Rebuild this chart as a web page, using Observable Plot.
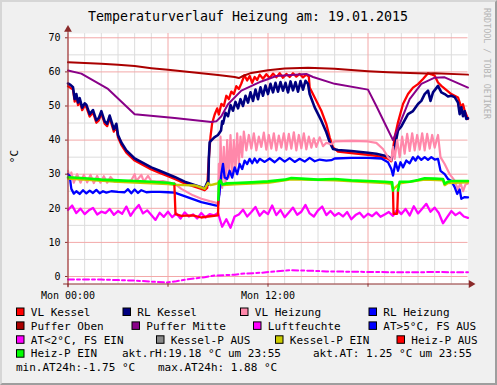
<!DOCTYPE html>
<html><head><meta charset="utf-8">
<script src="https://cdn.jsdelivr.net/npm/d3@7"></script>
<script src="https://cdn.jsdelivr.net/npm/@observablehq/plot@0.6"></script>
<style>
body{margin:0;background:#fff}
#wrap{position:relative;width:497px;height:385px;background:#f0f0f0;overflow:hidden}
#wrap svg{position:absolute;left:0;top:0}
#border{position:absolute;left:0;top:0;width:497px;height:385px;box-sizing:border-box;border:2px solid;border-color:#d6d6d6 #9e9e9e #9e9e9e #d6d6d6;pointer-events:none}
</style></head>
<body><div id="wrap"></div>
<script>
// ---- tick definitions ----
const hourTicks = [0, 12];
const hourTickLabels = ["Mon 00:00", "Mon 12:00"];
const majorHours = [0, 6, 12, 18];
const minorHours = [1,2,3,4,5,7,8,9,10,11,13,14,15,16,17,19,20,21,22,23];
const yLabels = [0, 10, 20, 30, 40, 50, 60, 70];
const minorY = [5, 15, 25, 35, 45, 55, 65];

// ---- series: [hour, °C] ----
const vlKessel = [[0,55.8],[0.15,55.3],[0.3,54.8],[0.4,51.3],[0.5,52.8],[0.6,50.3],[0.7,51.6],[0.85,48.8],[1.0,50.1],[1.1,49.7],[1.3,46.9],[1.5,48.1],[1.7,45.1],[1.85,45.8],[2.0,47.8],[2.2,44.8],[2.35,44.1],[2.5,46.5],[2.75,42.5],[2.9,44.1],[3.0,40.8],[3.2,38.6],[3.5,36.3],[4,34],[4.5,32.7],[5,31.4],[5.5,30.4],[6,29.4],[6.4,28.6],[7,27.3],[7.5,26.5],[8,25.7],[8.2,25.3],[8.35,26],[8.45,34.5],[8.55,41],[8.65,45],[8.8,47.5],[8.95,49.3],[9.05,47.5],[9.2,50.6],[9.35,50],[9.5,53],[9.65,52],[9.8,54.2],[9.95,53.5],[10.1,55.8],[10.25,55],[10.4,56.6],[10.58,59],[10.75,57.5],[10.9,58.8],[11.05,56.8],[11.2,58.5],[11.35,57.6],[11.5,59.2],[11.7,58],[11.9,59.3],[12.1,58.2],[12.3,59.5],[12.5,58.4],[12.7,59.6],[12.9,58.3],[13.1,59.4],[13.3,58.5],[13.5,59.6],[13.7,58.6],[13.9,59.4],[14.1,58.4],[14.3,59.2],[14.45,58.6],[14.5,55.4],[14.8,52.5],[15.2,48.6],[15.5,44.7],[15.7,40.8],[15.9,37.9],[16.2,36.6],[17,36.2],[18,35.7],[18.5,35.4],[19.2,34.6],[19.4,33.8],[19.6,40.8],[19.8,45.2],[20.1,50.6],[20.4,53.5],[20.7,55.4],[21,56.4],[21.3,57.9],[21.6,59.6],[21.8,59.3],[22,58.9],[22.2,56.9],[22.4,55.9],[23,53.5],[23.4,52.5],[23.6,49.6],[23.7,50.5],[23.8,48.6],[24,46.2]];
const rlKessel = [[0,56.6],[0.15,56.2],[0.3,55.5],[0.4,52],[0.5,53.5],[0.6,51],[0.7,52.3],[0.85,49.5],[1.0,50.8],[1.1,50.4],[1.3,47.6],[1.5,48.8],[1.7,45.8],[1.85,46.5],[2.0,48.5],[2.2,45.5],[2.35,44.8],[2.5,47.2],[2.75,43.2],[2.9,44.8],[3.0,41.5],[3.2,39.3],[3.5,37],[4,34.6],[4.5,33.3],[5,32],[5.5,31],[6,30],[6.4,29.2],[7,27.8],[7.5,27],[8,26.2],[8.2,25.8],[8.3,27],[8.38,27.8],[8.42,27],[8.45,34.5],[8.5,39.4],[8.78,40.8],[9.0,41.5],[9.18,42.8],[9.25,45.5],[9.3,44.8],[9.45,48],[9.6,47],[9.75,50.3],[9.9,48.6],[10.05,51.2],[10.2,49.3],[10.35,52],[10.5,50],[10.65,53],[10.8,51],[10.95,54],[11.1,51.5],[11.25,54.8],[11.4,52],[11.55,55.5],[11.7,53],[11.85,56],[12,53.5],[12.15,56.5],[12.3,54],[12.45,56.8],[12.6,54.2],[12.75,57],[12.9,54.5],[13.05,56.8],[13.2,54],[13.35,57.2],[13.5,54.6],[13.65,57],[13.8,54.2],[13.95,57.3],[14.1,54.8],[14.25,57.4],[14.4,56.5],[14.5,53.5],[14.8,49.6],[15.2,45.7],[15.5,42.3],[15.7,39.4],[15.9,37.4],[16.2,37.1],[17,36.8],[18,36.3],[18.5,36],[19.2,35.2],[19.4,34.2],[19.6,37.9],[19.8,42.8],[20,44],[20.4,47.6],[20.7,48.5],[21,50.6],[21.2,51.5],[21.4,53.5],[21.6,54.5],[21.75,51.5],[21.9,54],[22.2,55.9],[22.4,54],[22.6,53.5],[22.8,52.8],[23,53],[23.2,52.6],[23.4,51],[23.5,47.6],[23.6,49.6],[23.7,47],[23.8,48.5],[23.9,46.2],[24,46.4]];
const vlHeizung = [[0,31],[0.1,29],[0.2,30.5],[0.35,27.5],[0.55,30],[0.75,27.5],[0.95,29.8],[1.15,27.6],[1.35,29.8],[1.55,27.4],[1.75,29.5],[1.95,27.5],[2.15,29.4],[2.35,27.5],[2.55,29.2],[2.8,27.8],[3.1,28.2],[3.4,27.7],[3.8,28.2],[4.0,30],[4.1,28],[4.4,29.8],[4.55,27.8],[4.8,29.5],[5.0,28],[5.3,27.8],[5.7,28],[6.0,27.6],[6.4,27.2],[6.8,25.7],[7.5,23.8],[8.0,22.8],[8.5,22.1],[8.9,21.6],[9.0,21.5],[9.05,33],[9.1,24],[9.15,41],[9.25,26],[9.35,38],[9.45,27],[9.55,40],[9.65,29],[9.75,41.5],[9.85,30],[9.95,40],[10.05,31],[10.15,42],[10.25,33],[10.35,41],[10.45,35],[10.55,42.5],[10.7,37],[10.85,41.5],[11,37.5],[11.15,42],[11.3,37],[11.45,41],[11.6,38],[11.75,42.2],[11.9,37.2],[12.05,41.5],[12.2,37.5],[12.35,42],[12.5,37],[12.65,41.3],[12.8,37.8],[12.95,42],[13.1,37.2],[13.25,41.8],[13.4,37.5],[13.55,42.3],[13.7,37],[13.85,41.5],[14,37.6],[14.15,42],[14.3,37.3],[14.45,41],[14.6,37.8],[14.75,40.5],[14.9,38],[15.1,40.8],[15.3,38.2],[15.5,39.2],[15.8,38.8],[16,39.6],[17,39.8],[18,39.6],[18.5,39.2],[18.9,37.4],[19.2,35],[19.4,34],[19.5,38],[19.6,34.5],[19.75,40],[19.9,35],[20.05,41],[20.2,36],[20.35,41.8],[20.5,36.8],[20.65,42],[20.8,37],[20.95,41.5],[21.1,37.2],[21.25,42],[21.4,37],[21.55,41.8],[21.7,37.5],[21.85,41.5],[22,37.8],[22.2,41.5],[22.35,35],[22.6,33],[22.9,30],[23.2,28.1],[23.4,25.5],[23.55,27.5],[23.7,25],[23.85,27],[24,27.3]];
const rlHeizung = [[0,30],[0.1,29.5],[0.2,25.7],[0.35,24.3],[0.5,25],[0.7,24.2],[0.9,25.3],[1.1,24.4],[1.3,25.2],[1.5,24.5],[1.7,25.4],[1.9,24.4],[2.1,25],[2.3,24.6],[2.6,25],[3,24.8],[3.4,24.7],[3.6,25.6],[3.8,24.4],[4.0,25.5],[4.2,24.5],[4.4,25.3],[4.7,24.7],[5.0,24.8],[5.5,24.8],[6.0,24.7],[6.4,24.6],[7.2,23.2],[8,21.8],[8.9,20.8],[9.0,20.8],[9.1,25],[9.2,30.1],[9.3,33],[9.4,29],[9.55,28.6],[9.7,31],[9.85,29],[10,32],[10.15,30],[10.3,33],[10.45,31.5],[10.6,34],[10.75,33],[10.9,34.5],[11.05,33.2],[11.2,34.6],[11.35,33.4],[11.5,34.5],[11.8,33.6],[12.1,34.6],[12.4,33.5],[12.7,34.8],[13,33.7],[13.3,34.7],[13.6,33.6],[13.9,34.5],[14.2,33.7],[14.5,34.8],[14.8,33.8],[15.1,34.3],[15.5,34],[15.8,34.1],[16,34.6],[17,34.8],[18,34.8],[18.8,34.6],[19.2,33.5],[19.4,31.5],[19.5,29.6],[19.65,33.5],[19.8,31],[19.95,33.5],[20.1,32],[20.3,34],[20.5,33.2],[20.7,35],[20.85,34],[21,35.2],[21.2,34.2],[21.4,35],[21.6,34.2],[21.8,35],[22,34.3],[22.2,34.5],[22.35,31],[22.6,30],[22.8,28.6],[23,28],[23.2,26.2],[23.35,24.2],[23.5,25.5],[23.6,22.8],[23.8,23.3],[24,23.2]];
const pufferOben = [[0,62.8],[1,62.6],[2,62.4],[3,62.1],[4,61.7],[5,61.1],[6,60.6],[7,60.1],[8,59.6],[9,59.1],[10,58.5],[10.25,58.2],[10.5,58.8],[11,59.7],[12,60.5],[13,61],[14.4,61.2],[16,60.9],[18,60.2],[19.2,59.9],[20.5,59.7],[21.5,59.5],[22,59.6],[24,59.2]];
const pufferMitte = [[0,60.4],[0.8,59.5],[2.4,55],[4,47.6],[6.4,46.5],[8.6,45.3],[8.9,45.5],[9.2,47],[9.6,50.5],[10.4,54.5],[11.6,57.2],[12.5,58.8],[14.3,59.4],[14.7,58.5],[16,56.5],[18,54.8],[18.5,50],[19.1,44],[19.5,40],[19.8,43.5],[20.5,52],[21.2,56.5],[22,58.3],[22.6,58.4],[24,55.4]];
// relative humidity, one value every 15 minutes from 00:00
const luftfeuchte = [19.5,20.8,18.6,19.9,18.3,19.4,20.1,18.2,19.0,18.6,19.8,18.1,19.2,18.4,20.5,17.8,19.6,21.0,18.5,19.4,18.0,16.6,18.7,17.5,19.0,17.4,18.5,17.0,18.8,17.6,18.2,17.0,18.6,17.3,18.3,17.9,18.6,14.6,16.8,14.3,17.6,18.2,19.6,17.6,18.9,20.4,17.8,19.2,18.3,20.8,18.0,19.5,17.4,18.8,20.2,18.1,19.0,21.0,18.5,17.6,19.4,20.5,18.0,19.2,17.8,18.6,17.6,18.9,16.8,18.0,18.7,17.3,18.4,17.7,18.8,17.5,18.2,18.9,17.8,19.6,18.3,19.8,17.9,20.6,18.5,19.9,21.3,19.0,20.2,18.6,15.6,17.4,19.2,18.0,18.8,17.6,17.2];
const atKalt = [[0,-0.9],[2,-0.9],[4,-1.2],[5,-1.5],[5.9,-1.75],[6.5,-1.4],[7.2,-0.8],[8.2,-0.2],[8.8,0.3],[10,0.5],[10.4,0.8],[11.6,1.1],[12.5,1.5],[13.4,1.85],[14.5,1.7],[15.5,1.5],[17,1.4],[18.5,1.3],[20.5,1.25],[22,1.3],[24,1.25]];
const kesselPEin = [[0,28.7],[3,27.8],[6,27.1],[6.4,26.9],[7,26.8],[7.6,26.7],[8,26.1],[8.2,25.7],[8.4,27.4],[8.55,26.8],[8.9,27.2],[9.0,27.4],[9.2,27.6],[9.3,26.8],[10,27],[12,27.5],[13.4,28.5],[16,28.2],[19,27.4],[19.4,27.2],[19.5,25.5],[19.9,27.3],[21.4,28.4],[22.5,28.2],[22.6,26.8],[22.8,27.4],[24,27.6]];
const heizPAus = [[6.38,27.2],[6.45,18.3],[6.8,17.8],[7.5,17.9],[8,17.3],[8.4,17.6],[9.0,17.9],[9.02,22.5],[9.03,null],[19.5,25.2],[19.53,18.4],[19.75,18.4],[19.8,25.2]];
const heizPEin = [[0,29.1],[1,28.8],[2,28.4],[3,28.2],[4,28],[5,27.8],[6,27.5],[6.38,27.2],[6.42,null],[9.02,22.5],[9.06,27.8],[9.15,28.2],[9.25,27],[9.5,27.3],[10,27.4],[11,27.6],[12,27.9],[13,28.4],[13.4,28.9],[14,28.7],[15,28.4],[16,28.6],[17,28.2],[18,28],[19,27.8],[19.45,27.6],[19.5,25.2],[19.52,null],[19.8,25.2],[19.9,27.8],[20.5,27.8],[21,28.3],[21.4,28.8],[22,28.7],[22.5,28.6],[22.6,27.2],[22.8,27.8],[23,28],[24,28]];

// ---- legend ----
const legendLabels = [["VL Kessel","RL Kessel","VL Heizung","RL Heizung"],["Puffer Oben","Puffer Mitte","Luftfeuchte","AT>5°C, FS AUS"],["AT<2°C, FS EIN","Kessel-P AUS","Kessel-P EIN","Heiz-P AUS"],["Heiz-P EIN"]];
const legendColors = [["#ff0000","#000080","#ff88aa","#0000ff"],["#aa0000","#880088","#ff00ff","#0000ff"],["#ff00ff","#888888","#cccc00","#ff0000"],["#00ff00"]];
const infoRow4 = ["akt.rH:19.18 °C um 23:55", "akt.AT: 1.25 °C um 23:55"];
const infoRow5 = ["min.AT24h:-1.75 °C", "max.AT24h: 1.88 °C"];
const titleText = "Temperaturverlauf Heizung am: 19.01.2015";

// layout (positions only)
const legendBoxX = [[16,122.5,240,368.5],[16,131.5,253,368.5],[16,156,275,396.5],[16]];
const info4X = [122, 313];
const info5X = [16, 158];
const rowBase = [315.7, 329.6, 343.5, 357.4, 371.3];

const yMin = -2.2, yMax = 71.26;
const axisColor = "#8b2a2a";
const mono = "DejaVu Sans Mono, monospace";
const L = (data, color, w, extra = {}) => Plot.line(data, {x: d => d[0], y: d => d[1], stroke: color, strokeWidth: w, strokeLinejoin: "round", ...extra});

const chart = Plot.plot({
  width: 497, height: 385,
  marginLeft: 67.5, marginRight: 29.5, marginTop: 33, marginBottom: 101.5,
  style: {background: "transparent", fontFamily: mono, fontSize: "10px", color: "#000", overflow: "visible"},
  x: {domain: [0, 24]},
  y: {domain: [yMin, yMax]},
  marks: [
    Plot.frame({fill: "#ffffff", stroke: null}),
    Plot.ruleX(minorHours, {stroke: "#dcdcdc"}),
    Plot.ruleY(minorY, {stroke: "#dcdcdc"}),
    Plot.ruleX(majorHours, {stroke: "#f3a8a8"}),
    Plot.ruleY(yLabels, {stroke: "#f3a8a8"}),
    L(vlKessel, "#ff0000", 2.3),
    L(rlKessel, "#000080", 2.6),
    L(vlHeizung, "#ff88aa", 2.2),
    L(rlHeizung, "#0000ff", 2.3),
    L(pufferOben, "#aa0000", 2),
    L(pufferMitte, "#880088", 2),
    L(luftfeuchte.map((v, i) => [i * 0.25, v]), "#ff00ff", 2.3),
    L(atKalt, "#ff00ff", 2, {strokeDasharray: "6,3,3,3"}),
    L(kesselPEin, "#c8c800", 2.4),
    L(heizPAus, "#ff0000", 2.3),
    L(heizPEin, "#00ff00", 2.6),
    // axes
    Plot.ruleX(majorHours, {y1: yMin, y2: yMin - 0.95, stroke: axisColor}),
    Plot.ruleY(yLabels, {x1: -0.15, x2: 0, stroke: axisColor}),
    Plot.ruleY([yMin], {x1: -0.26, x2: 24.1, stroke: axisColor}),
    Plot.ruleX([0], {y1: yMin - 1.1, y2: 72.4, stroke: axisColor}),
    Plot.dot([[0, 72.4]], {x: d => d[0], y: d => d[1], symbol: "triangle", r: 2.9, fill: axisColor, stroke: null}),
    Plot.dot([[24.18, yMin]], {x: d => d[0], y: d => d[1], symbol: "triangle", r: 2.9, rotate: 90, fill: axisColor, stroke: null}),
    Plot.axisY(yLabels, {tickSize: 0, tickPadding: 7.5, label: null, fontSize: 10, fill: "#000"}),
    Plot.axisX(hourTicks, {tickSize: 0, tickPadding: 7.7, label: null, fontSize: 10, fill: "#000", tickFormat: d => hourTickLabels[hourTicks.indexOf(d)]})
  ]
});

const wrap = document.getElementById("wrap");
wrap.appendChild(chart);

// overlay texts
const ns = "http://www.w3.org/2000/svg";
const ov = document.createElementNS(ns, "svg");
ov.setAttribute("width", 497); ov.setAttribute("height", 385);
ov.style.fontFamily = mono;
function txt(s, x, y, size, attrs = {}) {
  const t = document.createElementNS(ns, "text");
  t.textContent = s;
  t.setAttribute("x", x); t.setAttribute("y", y);
  t.setAttribute("font-size", size);
  t.setAttribute("fill", "#000");
  t.setAttribute("xml:space", "preserve");
  t.style.whiteSpace = "pre";
  for (const k in attrs) t.setAttribute(k, attrs[k]);
  ov.appendChild(t);
  return t;
}
txt(titleText, 248, 20.7, 13.3, {"text-anchor": "middle"});
txt("°C", 0, 0, 11, {"text-anchor": "middle", transform: "translate(18,156.5) rotate(-90)"});
txt("RRDTOOL / TOBI OETIKER", 0, 0, 8.4, {fill: "#b4b4b4", transform: "translate(483.5,8) rotate(90)"});
legendLabels.forEach((row, r) => row.forEach((lab, c) => {
  const bx = legendBoxX[r][c], by = rowBase[r];
  const rect = document.createElementNS(ns, "rect");
  rect.setAttribute("x", bx + 0.5); rect.setAttribute("y", by - 7.7);
  rect.setAttribute("width", 7.5); rect.setAttribute("height", 7.5);
  rect.setAttribute("fill", legendColors[r][c]); rect.setAttribute("stroke", "#000"); rect.setAttribute("stroke-width", 1);
  ov.appendChild(rect);
  txt(lab, bx + 14.8, by, 11);
}));
infoRow4.forEach((s, i) => txt(s, info4X[i], rowBase[3], 11));
infoRow5.forEach((s, i) => txt(s, info5X[i], rowBase[4], 11));
wrap.appendChild(ov);

const b = document.createElement("div"); b.id = "border"; wrap.appendChild(b);
</script></body></html>
